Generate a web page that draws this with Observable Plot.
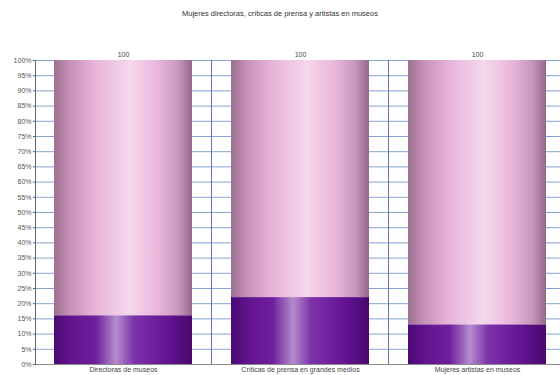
<!DOCTYPE html>
<html><head><meta charset="utf-8">
<script src="https://cdn.jsdelivr.net/npm/d3@7"></script>
<script src="https://cdn.jsdelivr.net/npm/@observablehq/plot@0.6"></script>
<style>
body{margin:0;background:#fff;font-family:"Liberation Sans",Arial,sans-serif;}
#title{height:28px;line-height:28px;text-align:center;font-size:7.5px;color:#333;width:560px;}
</style></head><body>
<div id="title">Mujeres directoras, críticas de prensa y artistas en museos</div>
<div id="chart"></div>
<script>
const categories = ["Directoras de museos", "Críticas de prensa en grandes medios", "Mujeres artistas en museos"];
const women = [16, 22, 13];
const totals = [100, 100, 100];
const yTicks = d3.range(0, 101, 5);

const rows = categories.map((c, i) => ({cat: c, women: women[i], total: totals[i]}));

const chart = Plot.plot({
  width: 560, height: 347,
  marginTop: 32, marginBottom: 11, marginLeft: 36, marginRight: 0,
  style: {fontFamily: "Liberation Sans, Arial, sans-serif", fontSize: "7px", color: "#333", background: "#fff"},
  x: {domain: categories, range: [36, 564], paddingInner: 0.22, paddingOuter: 0.1, label: null},
  y: {domain: [0, 100], ticks: yTicks, label: null},
  marks: [
    Plot.ruleY(yTicks, {stroke: "#6f93c8", strokeOpacity: 0.85, strokeWidth: 1}),
    Plot.ruleX(categories, {x: d => d, dx: 88, stroke: "#5876a0", strokeWidth: 1}),
    Plot.barY(rows, {x: "cat", y1: "women", y2: "total", fill: "url(#gPink)"}),
    Plot.barY(rows, {x: "cat", y1: 0, y2: "women", fill: "url(#gPurple)"}),
    Plot.text(rows, {x: "cat", y: "total", text: d => String(d.total), dy: -6, fill: "#444", fontSize: 7}),
    Plot.axisY({ticks: yTicks, tickFormat: d => d + "%", tickSize: 3, tickPadding: 2, stroke: "#666", fill: "#555", fontSize: 7}),
    Plot.ruleX([0], {x: () => categories[0], dx: -88, stroke: "#666"}),
    Plot.ruleY([0], {stroke: "#888"}),
    Plot.axisX({tickSize: 0, tickPadding: 3, fill: "#444", fontSize: 7})
  ]
});

const ns = "http://www.w3.org/2000/svg";
const defs = document.createElementNS(ns, "defs");
function grad(id, stops) {
  const g = document.createElementNS(ns, "linearGradient");
  g.setAttribute("id", id);
  g.setAttribute("x1", "0"); g.setAttribute("x2", "1");
  g.setAttribute("y1", "0"); g.setAttribute("y2", "0");
  for (const [o, c] of stops) {
    const s = document.createElementNS(ns, "stop");
    s.setAttribute("offset", o); s.setAttribute("stop-color", c);
    g.appendChild(s);
  }
  defs.appendChild(g);
}
grad("gPink", [[0, "#9c7090"], [0.12, "#c692b8"], [0.3, "#e8b4da"], [0.55, "#f4d8ec"], [0.75, "#eab6dc"], [0.9, "#c896bc"], [1, "#94688a"]]);
grad("gPurple", [[0, "#4a0a74"], [0.15, "#661692"], [0.3, "#6e1e9c"], [0.45, "#b48ccc"], [0.58, "#7e32aa"], [0.8, "#661696"], [1, "#48086e"]]);
const svg = chart.tagName === "svg" ? chart : chart.querySelector("svg");
svg.insertBefore(defs, svg.firstChild);
svg.style.overflow = "hidden";
document.getElementById("chart").appendChild(chart);
</script>
</body></html>
